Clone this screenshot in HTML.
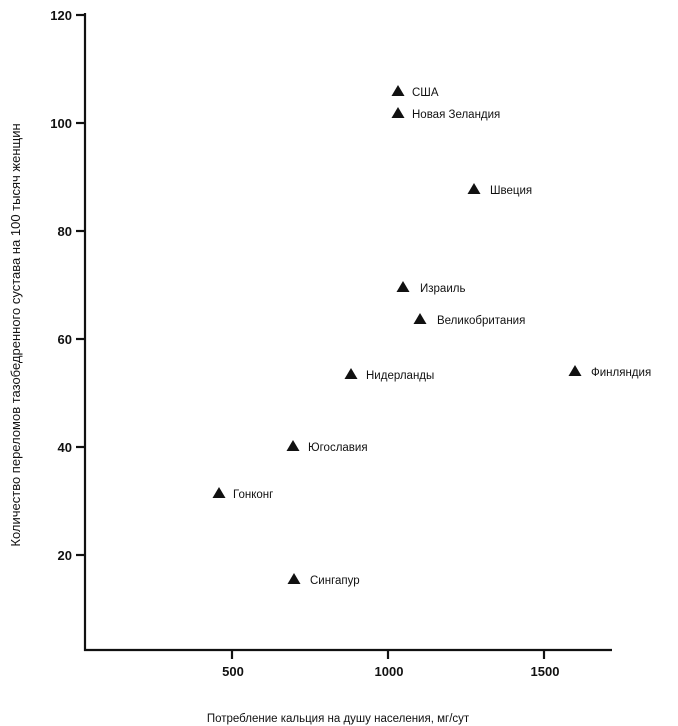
<!DOCTYPE html>
<html><head><meta charset="utf-8"><style>
html,body{margin:0;padding:0;background:#fff;}
svg{display:block;}
text{font-family:"Liberation Sans",sans-serif;fill:#111;}
</style></head><body>
<svg width="678" height="726" viewBox="0 0 678 726" xmlns="http://www.w3.org/2000/svg">
<g stroke="#111" stroke-width="2.2" fill="none">
<line x1="85" y1="13" x2="85" y2="651"/>
<line x1="84" y1="650" x2="612" y2="650"/>
<line x1="76" y1="15" x2="85" y2="15"/>
<line x1="76" y1="123" x2="85" y2="123"/>
<line x1="76" y1="231" x2="85" y2="231"/>
<line x1="76" y1="339" x2="85" y2="339"/>
<line x1="76" y1="447" x2="85" y2="447"/>
<line x1="76" y1="555" x2="85" y2="555"/>
<line x1="232" y1="650" x2="232" y2="659"/>
<line x1="388" y1="650" x2="388" y2="659"/>
<line x1="544" y1="650" x2="544" y2="659"/>
</g>
<g font-size="13" font-weight="bold" text-anchor="end">
<text x="72" y="20">120</text>
<text x="72" y="128">100</text>
<text x="72" y="236">80</text>
<text x="72" y="344">60</text>
<text x="72" y="452">40</text>
<text x="72" y="560">20</text>
</g>
<g font-size="13" font-weight="bold" text-anchor="middle">
<text x="233" y="676">500</text>
<text x="389" y="676">1000</text>
<text x="545" y="676">1500</text>
</g>
<text x="338" y="722" font-size="11.5" text-anchor="middle">Потребление кальция на душу населения, мг/сут</text>
<text transform="translate(20,335) rotate(-90)" font-size="13" text-anchor="middle">Количество переломов тазобедренного сустава на 100 тысяч женщин</text>
<g fill="#111">
<polygon points="398,85 404.5,96 391.5,96"/>
<polygon points="398,107 404.5,118 391.5,118"/>
<polygon points="474,183 480.5,194 467.5,194"/>
<polygon points="403,281 409.5,292 396.5,292"/>
<polygon points="420,313 426.5,324 413.5,324"/>
<polygon points="351,368 357.5,379 344.5,379"/>
<polygon points="575,365 581.5,376 568.5,376"/>
<polygon points="293,440 299.5,451 286.5,451"/>
<polygon points="219,487 225.5,498 212.5,498"/>
<polygon points="294,573 300.5,584 287.5,584"/>
</g>
<g font-size="11.5">
<text x="412" y="96">США</text>
<text x="412" y="118">Новая Зеландия</text>
<text x="490" y="194">Швеция</text>
<text x="420" y="292">Израиль</text>
<text x="437" y="324">Великобритания</text>
<text x="366" y="379">Нидерланды</text>
<text x="591" y="376">Финляндия</text>
<text x="308" y="451">Югославия</text>
<text x="233" y="498">Гонконг</text>
<text x="310" y="584">Сингапур</text>
</g>
</svg>
</body></html>
